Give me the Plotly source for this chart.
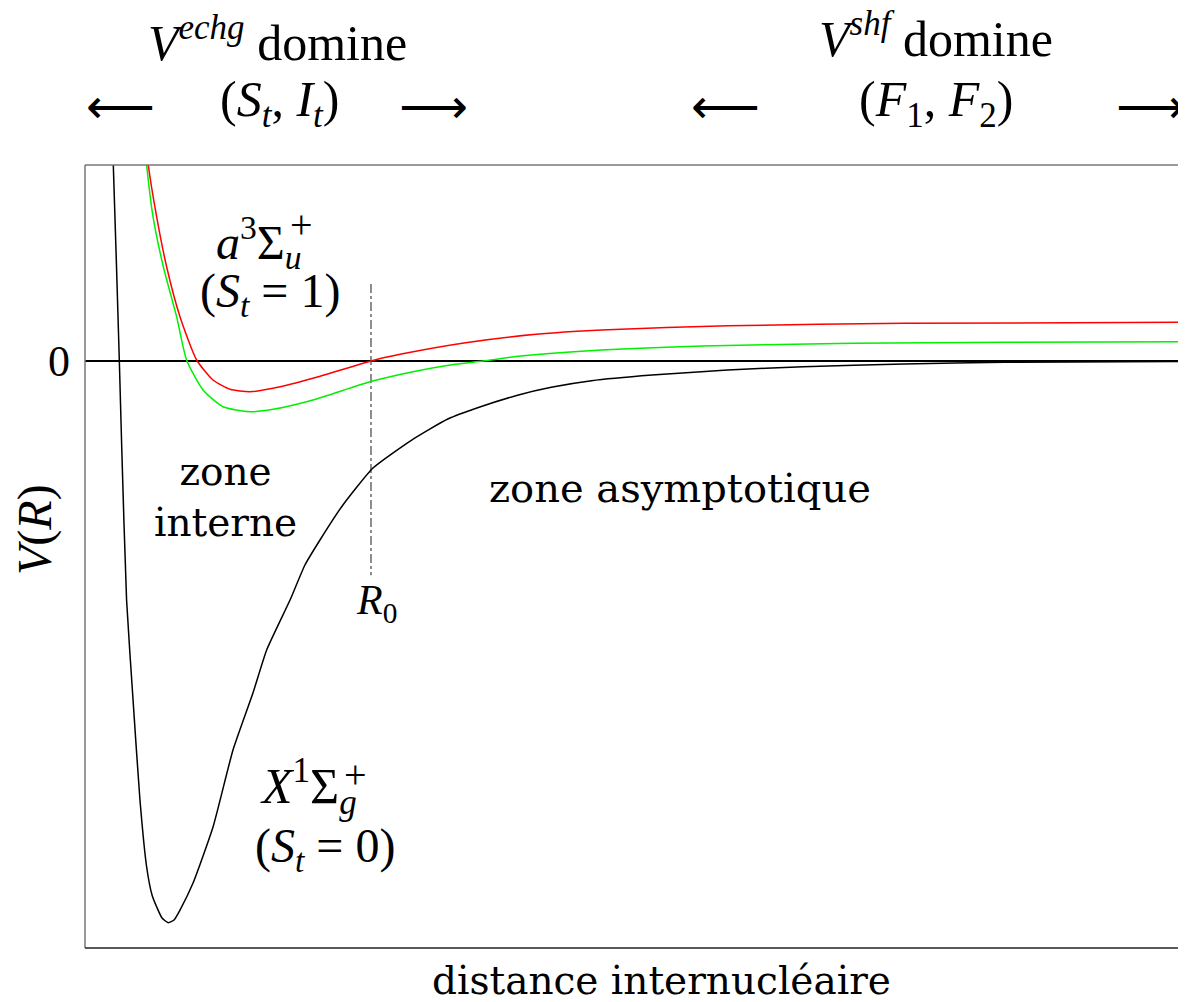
import plotly.graph_objects as go

# ---- data (arbitrary units: R along x, V(R) along y) ----
x_singlet = [2.46, 2.58, 3.13, 3.35, 3.79, 4.38, 5.01, 5.62, 6.11, 6.54, 7.02, 7.59, 8.11, 8.66,
             9.85, 11.67, 13.49, 15.31, 16.56, 18.69, 20.05, 21.42, 23.40, 26.25, 29.78, 33.07,
             36.06, 39.51, 42.50, 46.17, 51.69, 58.58, 65.47, 74.66, 83.85, 100.0]
v_singlet = [37.6, 33.39, 0.0, -14.82, -40.72, -57.75, -74.79, -86.2, -90.97, -93.02, -94.89, -95.69,
             -95.23, -93.53, -88.93, -79.39, -66.27, -56.56, -49.23, -40.72, -34.75, -30.49, -24.82,
             -18.23, -13.46, -9.88, -7.79, -5.79, -4.48, -3.36, -2.39, -1.53, -0.97, -0.51, -0.22, -0.1]

x_triplet_red = [5.56, 5.77, 6.53, 7.44, 8.66, 10.18, 11.67, 13.22, 15.04, 17.14, 20.78, 23.86, 26.07,
                 28.72, 34.69, 41.11, 47.09, 58.58, 74.66, 100.0]
v_triplet_red = [37.6, 33.39, 24.58, 16.06, 7.55, 0.17, -3.24, -4.82, -5.23, -4.65, -2.95, -1.24, 0.0,
                 1.14, 3.12, 4.55, 5.28, 6.01, 6.42, 6.59]

x_triplet_green = [5.42, 5.62, 6.20, 7.14, 8.35, 9.26, 10.76, 12.58, 15.04, 17.14, 20.78, 25.98, 29.90,
                   33.30, 36.30, 39.74, 47.09, 56.27, 70.06, 83.85, 100.0]
v_triplet_green = [37.6, 33.39, 24.58, 16.06, 7.55, 0.17, -4.94, -7.79, -8.64, -8.23, -6.64, -3.53, -1.82,
                   -0.68, 0.0, 0.85, 1.87, 2.56, 3.02, 3.19, 3.29]

zero_x = [0, 100]
zero_y = [0, 0]

R0 = 26.07
R0_v = [13.1, -36.5]

y_ticks = [0]
y_ticklabels = ["0"]

X_RANGE = [0, 100]
Y_RANGE = [-100, 33.39]

# page offset (body margin) and figure geometry
OFF = 8
W, H = 1178, 994
ML, MR, MT, MB = 77, 4, 157, 54
PW, PH = W - ML - MR, H - MT - MB

TEXT = "DejaVu Serif"
MATH = "Liberation Serif"


def pos(x, y):
    # x, y: position in page pixels
    return dict(x=(x - OFF - ML) / PW, y=(H - MB - (y - OFF)) / PH, xref="paper", yref="paper")


fig = go.Figure()
fig.add_trace(go.Scatter(x=zero_x, y=zero_y, mode="lines", line=dict(color="black", width=2),
                         hoverinfo="skip", showlegend=False))
fig.add_trace(go.Scatter(x=[R0, R0], y=R0_v, mode="lines",
                         line=dict(color="#444444", width=1.2, dash="dashdot"),
                         hoverinfo="skip", showlegend=False))
fig.add_trace(go.Scatter(x=x_singlet, y=v_singlet, mode="lines",
                         line=dict(color="black", width=1.5, shape="spline", smoothing=0.5),
                         showlegend=False))
fig.add_trace(go.Scatter(x=x_triplet_green, y=v_triplet_green, mode="lines",
                         line=dict(color="#00f000", width=1.5, shape="spline", smoothing=0.6),
                         showlegend=False))
fig.add_trace(go.Scatter(x=x_triplet_red, y=v_triplet_red, mode="lines",
                         line=dict(color="#ff0000", width=1.5, shape="spline", smoothing=0.6),
                         showlegend=False))

ann = []


def add(text, x, y, size, family=MATH, xanchor="center", yanchor="middle", angle=0):
    ann.append(dict(text=text, showarrow=False, xanchor=xanchor, yanchor=yanchor, textangle=angle,
                    font=dict(family=family, size=size, color="black"), **pos(x, y)))


# top labels
add("<i>V</i><sup><i>echg</i></sup> domine", 277, 40, 50)
add("<i>V</i><sup><i>shf</i></sup> domine", 936, 36, 50)
add("(<i>S</i><sub><i>t</i></sub>, <i>I</i><sub><i>t</i></sub>)", 279, 103, 50)
add("(<i>F</i><sub>1</sub>, <i>F</i><sub>2</sub>)", 936, 103, 50)
add("⟵", 120, 106, 48, family="DejaVu Sans")
add("⟶", 433, 106, 48, family="DejaVu Sans")
add("⟵", 725, 106, 48, family="DejaVu Sans")
add("⟶", 1150, 106, 48, family="DejaVu Sans")

# state labels
add("<i>a</i><sup>3</sup>Σ<sub><i>u</i></sub>", 214, 243, 48, xanchor="left")
add("+", 301, 224, 40)
add("(<i>S</i><sub><i>t</i></sub> = 1)", 270, 294, 48)
add("<i>X</i><sup>1</sup>Σ<sub><i>g</i></sub>", 258, 786, 50, xanchor="left")
add("+", 355, 774, 40)
add("(<i>S</i><sub><i>t</i></sub> = 0)", 325, 849, 48)

# zone labels
add("zone<br>interne", 225, 497, 39, family=TEXT)
add("zone asymptotique", 680, 488, 40, family=TEXT)
add("<i>R</i><sub>0</sub>", 376, 603, 42)

# axis titles
add("<i>V</i>(<i>R</i>)", 35, 530, 48, angle=-90)
add("distance internucléaire", 661, 980, 39, family=TEXT)

shapes = [
    dict(type="line", xref="paper", yref="paper", x0=0, x1=1, y0=1, y1=1, line=dict(color="#777777", width=1.5)),
    dict(type="line", xref="paper", yref="paper", x0=0, x1=0, y0=0, y1=1, line=dict(color="#777777", width=1.5)),
    dict(type="line", xref="paper", yref="paper", x0=1, x1=1, y0=0, y1=1, line=dict(color="#222222", width=1.5)),
    dict(type="line", xref="paper", yref="paper", x0=0, x1=1, y0=0, y1=0, line=dict(color="#222222", width=1.5)),
]

fig.update_layout(
    width=W, height=H,
    margin=dict(l=ML, r=MR, t=MT, b=MB, pad=0),
    paper_bgcolor="white", plot_bgcolor="white",
    annotations=ann, shapes=shapes,
    xaxis=dict(range=X_RANGE, showgrid=False, zeroline=False, showticklabels=False, ticks="",
               showline=False, fixedrange=True),
    yaxis=dict(range=Y_RANGE, showgrid=False, zeroline=False, tickvals=y_ticks, ticktext=y_ticklabels,
               ticks="", showline=False, ticklabelstandoff=14,
               tickfont=dict(family=MATH, size=44, color="black"), fixedrange=True),
    showlegend=False,
)

fig.write_html("out.html")
